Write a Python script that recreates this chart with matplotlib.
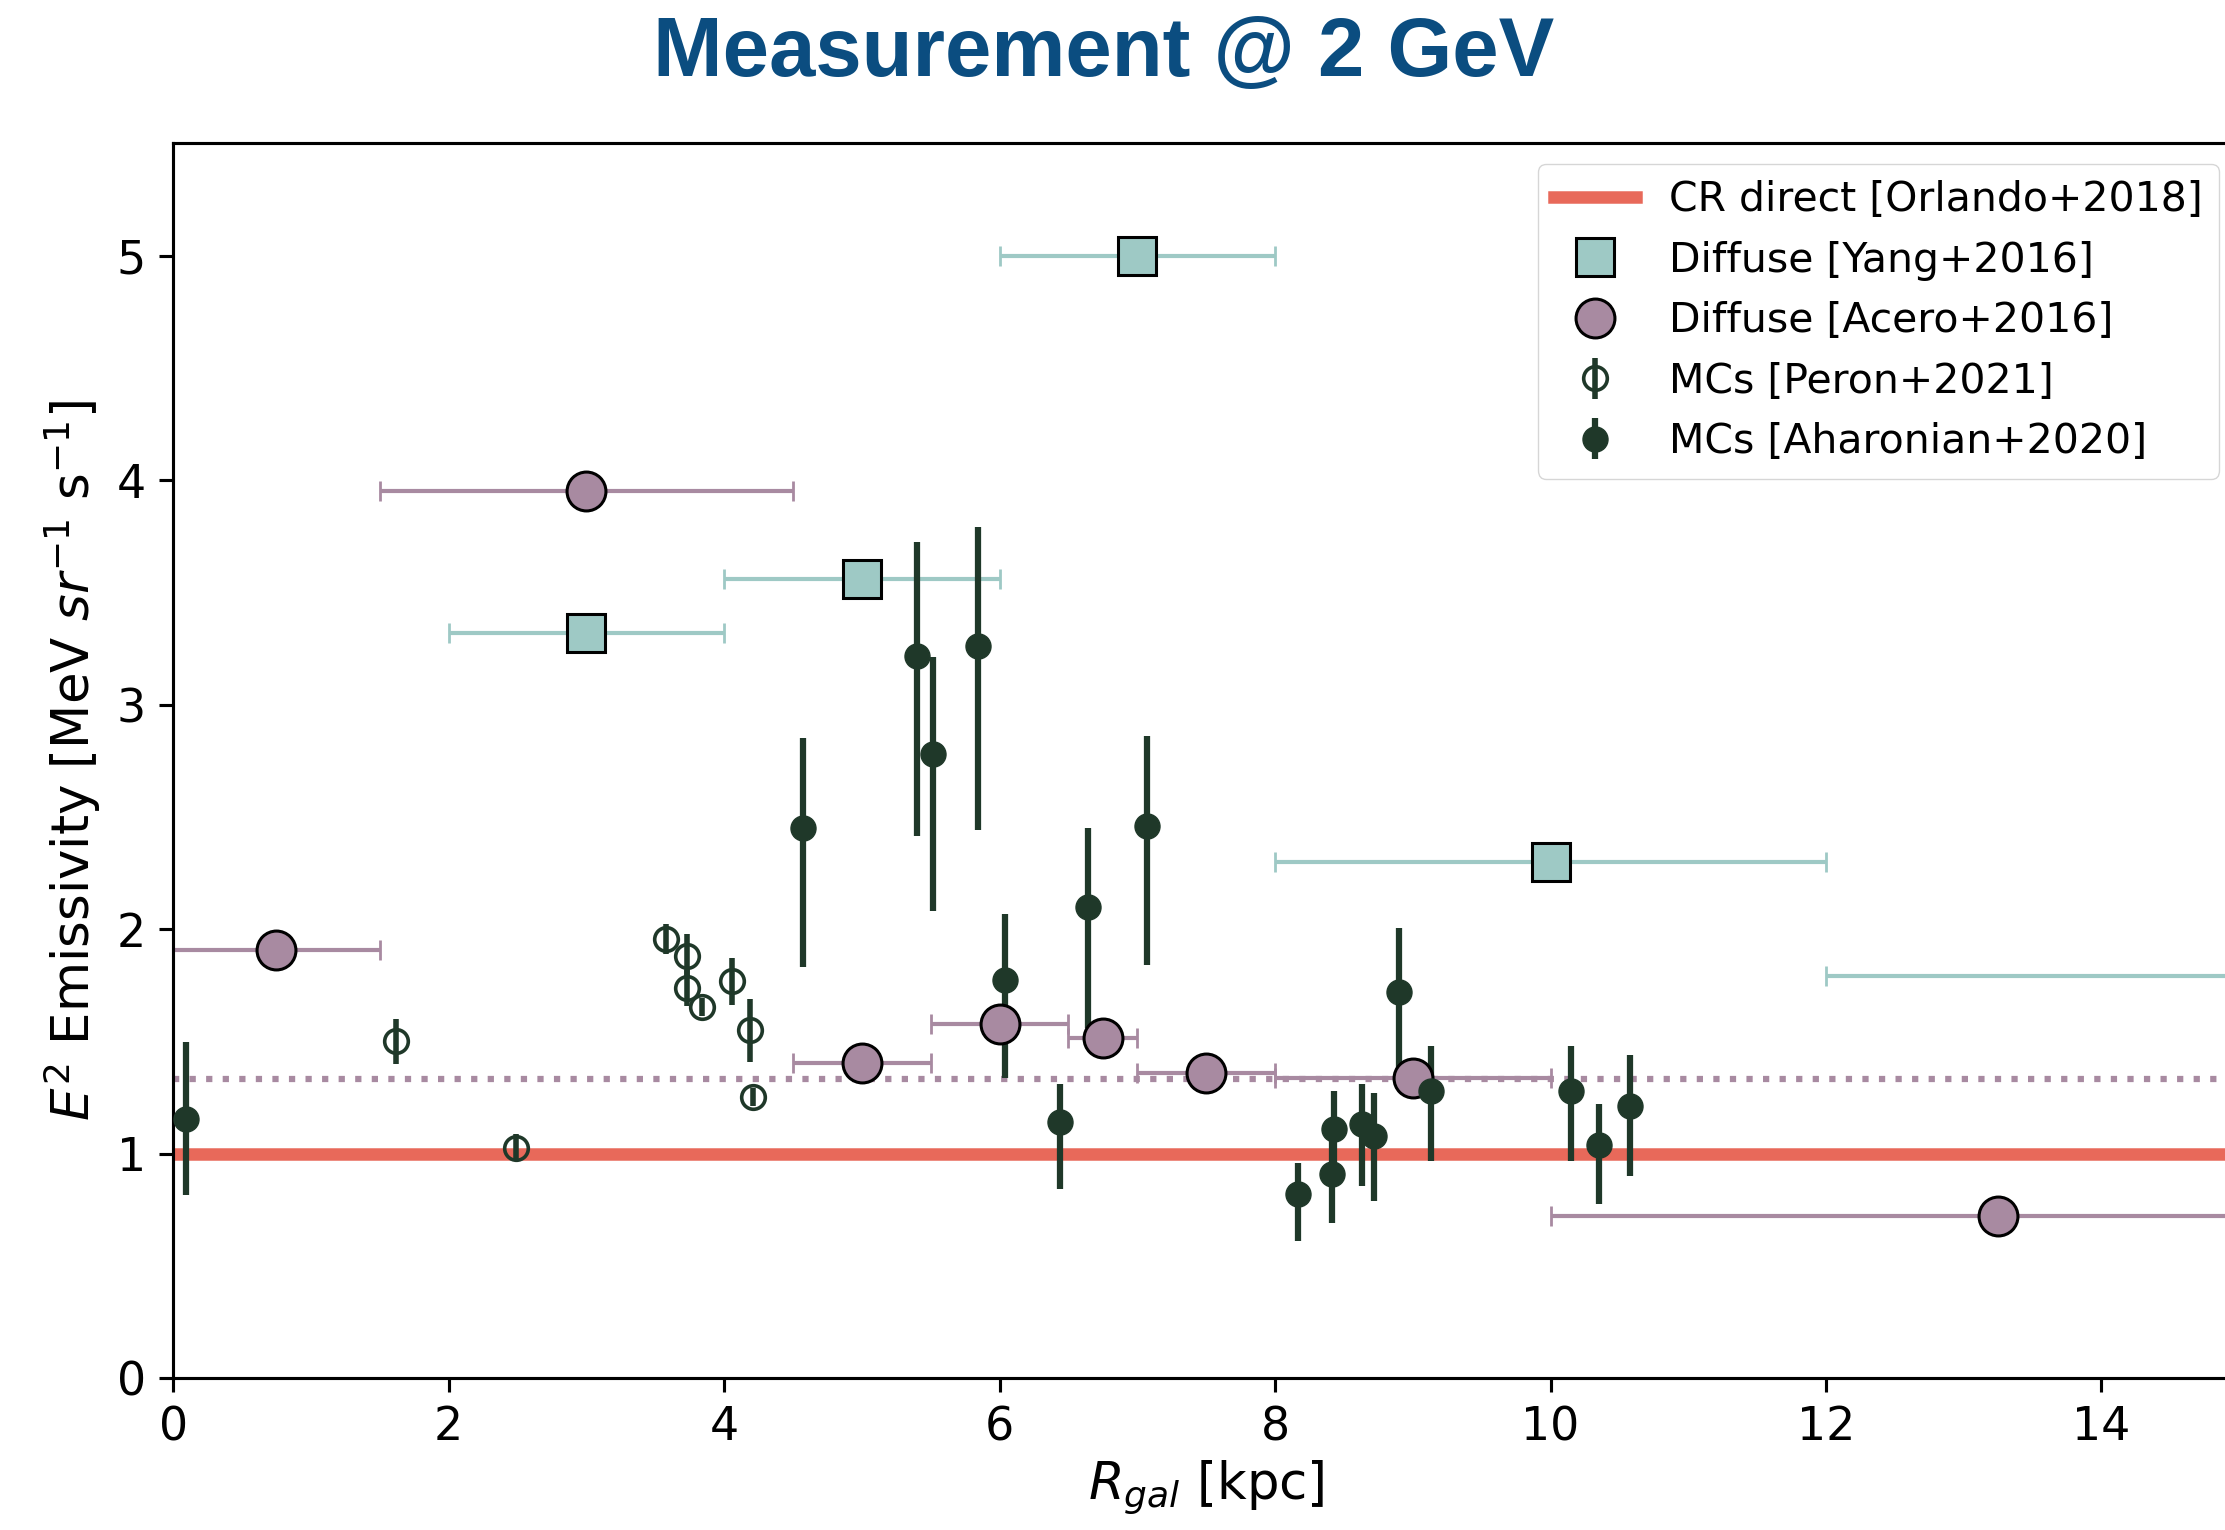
import matplotlib
matplotlib.use("Agg")
import matplotlib.pyplot as plt

# Diffuse [Yang+2016]
yang_r = [3.0, 5.0, 7.0, 10.0, 16.0]
yang_rerr = [1.0, 1.0, 1.0, 2.0, 4.0]
yang_e = [3.32, 3.56, 5.0, 2.30, 1.79]

# Diffuse [Acero+2016]
acero_r = [0.75, 3.0, 5.0, 6.0, 6.75, 7.5, 9.0, 13.25]
acero_rerr = [0.75, 1.5, 0.5, 0.5, 0.25, 0.5, 1.0, 3.25]
acero_e = [1.905, 3.95, 1.405, 1.576, 1.513, 1.36, 1.335, 0.72]
acero_mean = 1.333

# MCs [Peron+2021]
peron_r = [1.62, 2.49, 3.58, 3.73, 3.73, 3.84, 4.06, 4.19, 4.21]
peron_e = [1.50, 1.025, 1.956, 1.882, 1.738, 1.653, 1.768, 1.549, 1.251]
peron_err = [0.10, 0.06, 0.067, 0.096, 0.08, 0.04, 0.105, 0.14, 0.04]

# MCs [Aharonian+2020]
ahar_r = [0.09, 4.57, 5.40, 5.52, 5.84, 6.04, 6.44, 6.64, 7.07, 8.17,
          8.41, 8.43, 8.63, 8.72, 8.90, 9.13, 10.15, 10.35, 10.58]
ahar_e = [1.156, 2.45, 3.215, 2.78, 3.26, 1.775, 1.14, 2.10, 2.46, 0.82,
          0.91, 1.11, 1.13, 1.08, 1.72, 1.28, 1.28, 1.04, 1.21]
ahar_lo = [0.34, 0.62, 0.80, 0.70, 0.82, 0.44, 0.30, 0.54, 0.62, 0.21,
           0.22, 0.25, 0.275, 0.29, 0.40, 0.315, 0.315, 0.265, 0.31]
ahar_hi = [0.34, 0.40, 0.51, 0.43, 0.53, 0.29, 0.17, 0.35, 0.40, 0.14,
           0.15, 0.17, 0.18, 0.19, 0.285, 0.20, 0.20, 0.18, 0.23]

cr_direct = 1.0

s = 2.8  # scale factor
plt.rcParams["font.size"] = 10 * s
plt.rcParams["axes.linewidth"] = 0.8 * s
plt.rcParams["xtick.major.size"] = 3.5 * s
plt.rcParams["ytick.major.size"] = 3.5 * s
plt.rcParams["xtick.major.width"] = 0.8 * s
plt.rcParams["ytick.major.width"] = 0.8 * s
plt.rcParams["xtick.major.pad"] = 3.5 * s
plt.rcParams["ytick.major.pad"] = 3.5 * s
plt.rcParams["xtick.labelsize"] = 33
plt.rcParams["ytick.labelsize"] = 33
plt.rcParams["legend.fontsize"] = 29.5

red = "#e8695a"
teal = "#9ec9c5"
purple = "#a88aa1"
dark = "#1f3829"

fig = plt.figure(figsize=(22.25, 15.3), dpi=100)
ax = fig.add_axes([0.0778, 0.0993, 0.9286, 0.807])

ax.axhline(cr_direct, color=red, lw=9, zorder=1, label="CR direct [Orlando+2018]")
ax.axhline(acero_mean, color=purple, lw=4.5, ls=":", zorder=1)

ax.errorbar(yang_r, yang_e, xerr=yang_rerr, fmt="none", ecolor=teal,
            elinewidth=3, capsize=7, capthick=2, zorder=2)
ax.plot(yang_r, yang_e, "s", ms=28, mfc=teal, mec="black", mew=2.2,
        zorder=6, label="Diffuse [Yang+2016]")

ax.errorbar(acero_r, acero_e, xerr=acero_rerr, fmt="none", ecolor=purple,
            elinewidth=3, capsize=7, capthick=2, zorder=2)
ax.plot(acero_r, acero_e, "o", ms=28, mfc=purple, mec="black", mew=2.2,
        zorder=4, label="Diffuse [Acero+2016]")

ax.errorbar(peron_r, peron_e, yerr=peron_err, fmt="o", ms=17, mfc="none",
            mec=dark, mew=2.6, ecolor=dark, elinewidth=4, color=dark,
            zorder=3, label="MCs [Peron+2021]")

eb = ax.errorbar(ahar_r, ahar_e, yerr=[ahar_lo, ahar_hi], fmt="o", ms=18,
                 color=dark, ecolor=dark, elinewidth=4.5, zorder=3,
                 label="MCs [Aharonian+2020]")
eb[0].set_zorder(5)

ax.set_xlim(0, 15)
ax.set_ylim(0, 5.5)
ax.set_xticks([0, 2, 4, 6, 8, 10, 12, 14])
ax.set_yticks([0, 1, 2, 3, 4, 5])

ax.set_xlabel(r"$R_{gal}$ [kpc]", fontsize=37, labelpad=6)
ax.set_ylabel(r"$E^2$ Emissivity [MeV $sr^{-1}$ s$^{-1}$]", fontsize=37, labelpad=10)

ax.legend(loc="upper right", borderaxespad=0.5)

fig.text(0.496, 0.965, "Measurement @ 2 GeV", ha="center", va="center",
         fontsize=60, fontweight="bold", color="#0b4d80",
         family=["Liberation Sans", "DejaVu Sans"])

plt.savefig("out.png", dpi=100)
